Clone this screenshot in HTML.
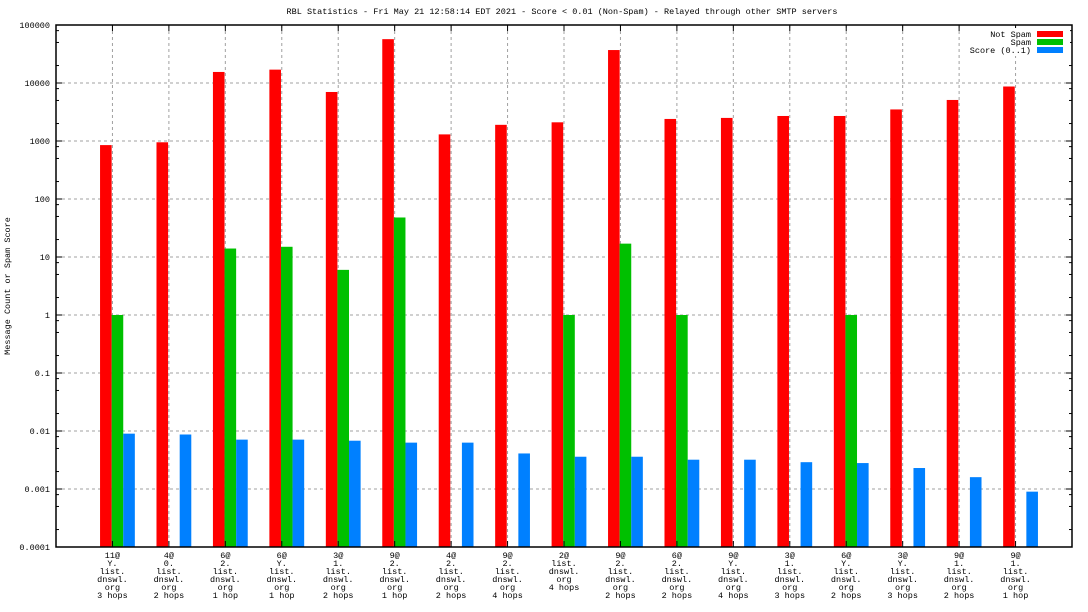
<!DOCTYPE html>
<html><head><meta charset="utf-8">
<style>
html,body{margin:0;padding:0;background:#fff;}
svg{display:block;font-family:"Liberation Mono","DejaVu Sans Mono",monospace;font-size:8.5px;}
</style></head>
<body>
<svg id="chart" width="1088" height="612" viewBox="0 0 1088 612" xmlns="http://www.w3.org/2000/svg">
<text x="562" y="14" text-anchor="middle">RBL Statistics - Fri May 21 12:58:14 EDT 2021 - Score &lt; 0.01 (Non-Spam) - Relayed through other SMTP servers</text>
<text transform="translate(10,286) rotate(-90)" text-anchor="middle">Message Count or Spam Score</text>
<g id="grid"></g>
<g id="bars"></g>
<g id="axes"></g>
<g id="legend">
<rect x="960" y="28" width="110" height="28" fill="#fff"/>
<text x="1031" y="37" text-anchor="end">Not Spam</text>
<rect x="1037" y="31" width="26" height="6" fill="#ff0000"/>
<text x="1031" y="45" text-anchor="end">Spam</text>
<rect x="1037" y="39" width="26" height="6" fill="#00c000"/>
<text x="1031" y="53" text-anchor="end">Score (0..1)</text>
<rect x="1037" y="47" width="26" height="6" fill="#0080ff"/>
</g>
</svg>
<script>
const categories = [
["11@","Y.","list.","dnswl.","org","3 hops"],
["4@","0.","list.","dnswl.","org","2 hops"],
["6@","2.","list.","dnswl.","org","1 hop"],
["6@","Y.","list.","dnswl.","org","1 hop"],
["3@","1.","list.","dnswl.","org","2 hops"],
["9@","2.","list.","dnswl.","org","1 hop"],
["4@","2.","list.","dnswl.","org","2 hops"],
["9@","2.","list.","dnswl.","org","4 hops"],
["2@","list.","dnswl.","org","4 hops"],
["9@","2.","list.","dnswl.","org","2 hops"],
["6@","2.","list.","dnswl.","org","2 hops"],
["9@","Y.","list.","dnswl.","org","4 hops"],
["3@","1.","list.","dnswl.","org","3 hops"],
["6@","Y.","list.","dnswl.","org","2 hops"],
["3@","Y.","list.","dnswl.","org","3 hops"],
["9@","1.","list.","dnswl.","org","2 hops"],
["9@","1.","list.","dnswl.","org","1 hop"]
];
const notSpam = [850,950,15500,17000,7000,57000,1300,1900,2100,37000,2400,2500,2700,2700,3500,5100,8700];
const spam = [1,null,14,15,6,48,null,null,1,17,1,null,null,1,null,null,null];
const score = [0.009,0.0087,0.0071,0.0071,0.0068,0.0063,0.0063,0.0041,0.0036,0.0036,0.0032,0.0032,0.0029,0.0028,0.0023,0.0016,0.0009];
const yTickLabels = ["0.0001","0.001","0.01","0.1","1","10","100","1000","10000","100000"];

const NS="http://www.w3.org/2000/svg";
const L=56,R=1072,T=25,B=547,DEC=(B-T)/9,STEP=(R-L)/18,BW=11.6;
function y(v){return B-(Math.log10(v)+4)*DEC;}
function xc(i){return L+STEP*(i+1);}
function mk(tag,attrs,parent){const e=document.createElementNS(NS,tag);for(const k in attrs)e.setAttribute(k,attrs[k]);parent.appendChild(e);return e;}
const grid=document.getElementById('grid'),bars=document.getElementById('bars'),axes=document.getElementById('axes');

yTickLabels.forEach((lab,k)=>{
  const v=parseFloat(lab),yy=y(v);
  if(k>0&&k<9){const g=mk('line',{x1:L,x2:R,y1:yy,y2:yy,stroke:'#a0a0a0','stroke-dasharray':'3,3'},grid);
  
  }
  const t=mk('text',{x:L-6,y:yy+3,'text-anchor':'end'},axes);t.textContent=lab;
  
  
  mk('line',{x1:L,x2:L+6,y1:yy,y2:yy,stroke:'#000'},axes);
  mk('line',{x1:R,x2:R-6,y1:yy,y2:yy,stroke:'#000'},axes);
  if(k<9){[2,5,8].forEach(m=>{const ym=y(v*m);
    mk('line',{x1:L,x2:L+3,y1:ym,y2:ym,stroke:'#000'},axes);
    mk('line',{x1:R,x2:R-3,y1:ym,y2:ym,stroke:'#000'},axes);});}
});

categories.forEach((c,i)=>{
  const cx=xc(i);
  const g=mk('line',{x1:cx,x2:cx,y1:T,y2:B,stroke:'#a0a0a0','stroke-dasharray':'3,3'},grid);
  
  
  mk('line',{x1:cx,x2:cx,y1:T,y2:T+6,stroke:'#000'},axes);
  mk('line',{x1:cx,x2:cx,y1:B,y2:B-6,stroke:'#000'},axes);
  const t=mk('text',{x:cx,y:B+11,'text-anchor':'middle'},axes);
  
  
  c.forEach((line,j)=>{const s=mk('tspan',{x:cx,dy:j?8:0},t);s.textContent=line;});
  const x0=cx-12.4;
  const series=[[notSpam[i],'#ff0000','bar-not-spam'],[spam[i],'#00c000','bar-spam'],[score[i],'#0080ff','bar-score']];
  series.forEach((s,k)=>{
    if(s[0]==null)return;
    const yy=y(s[0]);
    const r=mk('rect',{x:x0+k*BW,y:yy,width:BW,height:B-yy,fill:s[1]},bars);
    
    
  });
});
const frame=mk('rect',{x:L,y:T,width:R-L,height:B-T,fill:'none',stroke:'#000','stroke-width':1.5},axes);


</script>
</body></html>
